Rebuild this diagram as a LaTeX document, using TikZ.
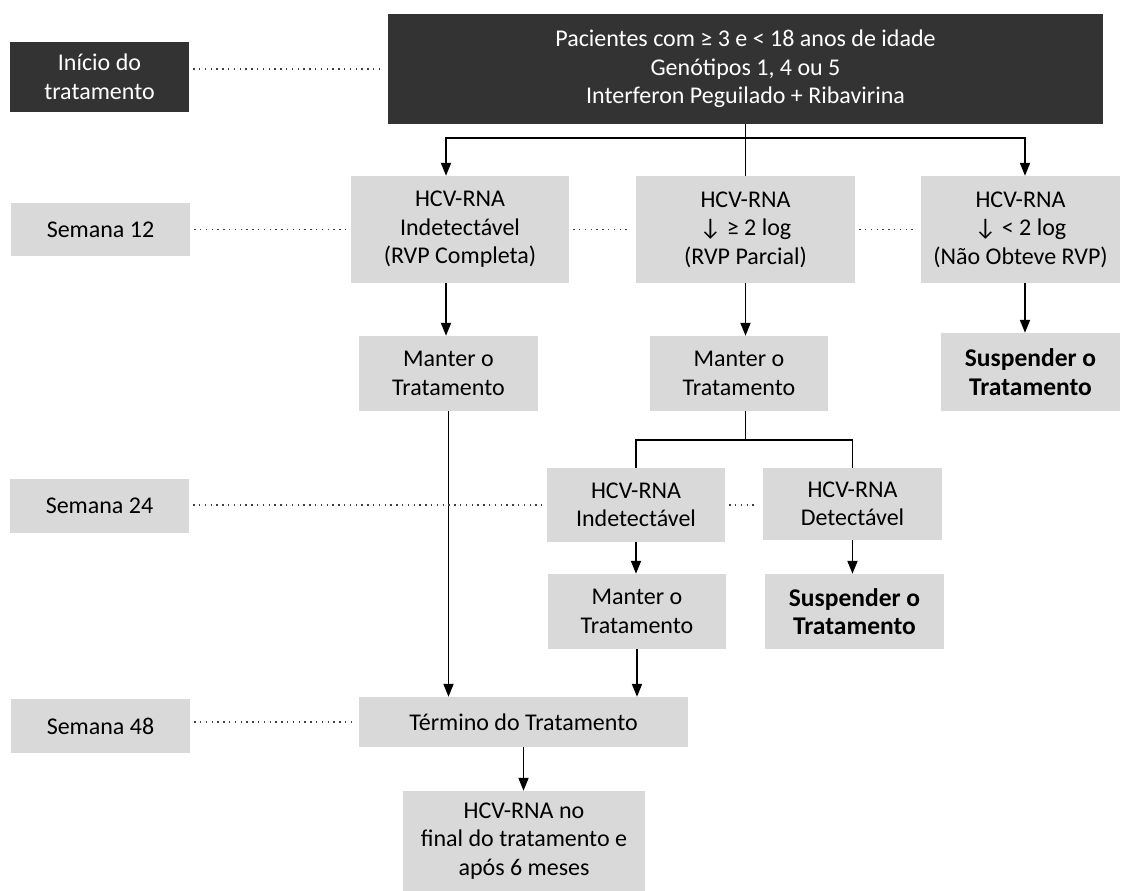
\documentclass[tikz,border=0pt]{standalone}
\usepackage{fontspec}
\setmainfont{Carlito}
\usetikzlibrary{arrows.meta}
\definecolor{darkfill}{HTML}{333333}
\definecolor{lightfill}{HTML}{D9D9D9}
\begin{document}
\begin{tikzpicture}[x=1pt,y=-1pt,
  box/.style={fill=lightfill, draw=none, align=center, inner sep=0pt, font=\fontsize{24}{28.5}\selectfont, text=black},
  boldbox/.style={box, font=\fontsize{25.5}{28.5}\selectfont\bfseries},
  darkbox/.style={box, fill=darkfill, text=white},
  arr/.style={line width=1.8pt, -{Triangle[length=13pt,width=10pt]}},
  ln/.style={line width=1.8pt},
  dotline/.style={line width=1.3pt, dash pattern=on 1.3pt off 4.5pt, draw=black!75, shorten <=4pt, shorten >=5pt}]
\useasboundingbox (0,0) rectangle (1128,891);
% left column
\node[darkbox, minimum width=179pt, minimum height=70pt] (ini) at (99.5,77) {Início do\\tratamento};
\node[box, minimum width=179pt, minimum height=53pt] (s12) at (100.5,229.5) {Semana 12};
\node[box, minimum width=179pt, minimum height=54pt] (s24) at (99.5,506) {Semana 24};
\node[box, minimum width=179pt, minimum height=54pt] (s48) at (100.5,726) {Semana 48};
% main
\node[darkbox, minimum width=715pt, minimum height=110pt] (top) at (745.5,69) {Pacientes com ≥ 3 e < 18 anos de idade\\Genótipos 1, 4 ou 5\\Interferon Peguilado + Ribavirina};
\node[box, minimum width=218pt, minimum height=107pt] (h1) at (460,229.5) {HCV-RNA\\Indetectável\\(RVP Completa)};
\node[box, minimum width=219pt, minimum height=107pt] (h2) at (745.5,229.5) {HCV-RNA\\↓ ≥ 2 log\\(RVP Parcial)};
\node[box, minimum width=199pt, minimum height=107pt] (h3) at (1020.5,229.5) {HCV-RNA\\↓ < 2 log\\(Não Obteve RVP)};
\node[box, minimum width=179pt, minimum height=75pt] (m1) at (448.5,373.5) {Manter o\\Tratamento};
\node[box, minimum width=178pt, minimum height=75pt] (m2) at (739,373.5) {Manter o\\Tratamento};
\node[boldbox, minimum width=179pt, minimum height=78pt] (sus1) at (1030.5,372) {Suspender o\\Tratamento};
\node[box, minimum width=178pt, minimum height=74pt] (h24i) at (636,505) {HCV-RNA\\Indetectável};
\node[box, minimum width=179pt, minimum height=72pt] (h24d) at (852.5,504) {HCV-RNA\\Detectável};
\node[box, minimum width=178pt, minimum height=75pt] (m3) at (637,611.5) {Manter o\\Tratamento};
\node[boldbox, minimum width=179pt, minimum height=75pt] (sus2) at (854.5,611.5) {Suspender o\\Tratamento};
\node[box, minimum width=329pt, minimum height=50pt] (ter) at (523.5,722) {Término do Tratamento};
\node[box, minimum width=242pt, minimum height=100pt] (fin) at (524,841) {HCV-RNA no\\final do tratamento e\\após 6 meses};
% connectors
\coordinate (j1) at ([yshift=-14pt]top.south);
\draw[ln] (top.south) -- (h2.north);
\draw[arr] (j1) -| ([xshift=-14pt]h1.north);
\draw[arr] (j1) -| ([xshift=4.5pt]h3.north);
\draw[arr] ([xshift=-14pt]h1.south) -- ([xshift=-14pt]h1.south |- m1.north);
\draw[arr] (h2.south) -- (h2.south |- m2.north);
\draw[arr] ([xshift=4.5pt]h3.south) -- ([xshift=4.5pt]h3.south |- sus1.north);
\draw[arr] (m1.south) -- (m1.south |- ter.north);
\coordinate (j2) at ([yshift=-29pt]h2.south |- m2.south);
\draw[ln] (h2.south |- m2.south) -- (j2);
\draw[ln] (j2) -| (h24i.north);
\draw[ln] (j2) -| (h24d.north);
\draw[arr] (h24i.south) -- (h24i.south |- m3.north);
\draw[arr] (h24d.south) -- (h24d.south |- sus2.north);
\draw[arr] (m3.south) -- (m3.south |- ter.north);
\draw[arr] (ter.south) -- (ter.south |- fin.north);
% dotted guides
\draw[dotline] (ini.east |- top.west) -- (top.west);
\draw[dotline] (s12.east) -- (h1.west);
\draw[dotline] (h1.east) -- (h2.west);
\draw[dotline] (h2.east) -- (h3.west);
\draw[dotline] (s24.east |- h24i.west) -- (h24i.west);
\draw[dotline] (h24i.east) -- (h24i.east -| h24d.west);
\draw[dotline] (s48.east |- ter.west) -- (ter.west);
\end{tikzpicture}
\end{document}
